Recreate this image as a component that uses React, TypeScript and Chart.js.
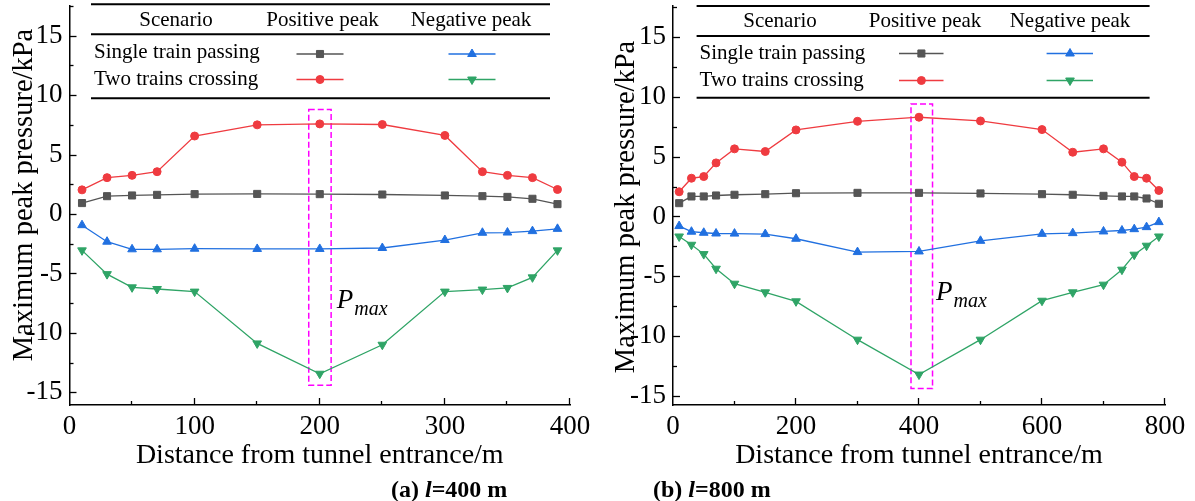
import React, { useEffect, useRef } from 'react';
import { Chart, registerables } from 'chart.js';
import { drawPoint } from 'chart.js/helpers';

Chart.register(...registerables);

const FONT = '"Liberation Serif", "Times New Roman", Times, serif';

// ---------- data: panel (a) l = 400 m ----------
const distanceA = [10, 30, 50, 70, 100, 150, 200, 250, 300, 330, 350, 370, 390];
const singlePosA = [0.92, 1.5, 1.56, 1.61, 1.67, 1.69, 1.67, 1.64, 1.56, 1.5, 1.44, 1.28, 0.83];
const singleNegA = [-0.94, -2.33, -2.97, -2.97, -2.92, -2.94, -2.94, -2.86, -2.19, -1.58, -1.56, -1.44, -1.25];
const twoPosA = [2.03, 3.06, 3.25, 3.56, 6.56, 7.5, 7.58, 7.53, 6.61, 3.56, 3.25, 3.06, 2.06];
const twoNegA = [-3.06, -5.06, -6.17, -6.31, -6.53, -10.89, -13.44, -11.0, -6.53, -6.36, -6.22, -5.33, -3.06];

// ---------- data: panel (b) l = 800 m ----------
const distanceB = [10, 30, 50, 70, 100, 150, 200, 300, 400, 500, 600, 650, 700, 730, 750, 770, 790];
const singlePosB = [1.11, 1.67, 1.67, 1.75, 1.81, 1.86, 1.94, 1.97, 1.97, 1.92, 1.86, 1.81, 1.72, 1.67, 1.67, 1.5, 1.06];
const singleNegB = [-0.8, -1.27, -1.36, -1.42, -1.43, -1.47, -1.86, -2.97, -2.92, -2.03, -1.45, -1.39, -1.25, -1.17, -1.06, -0.89, -0.47];
const twoPosB = [2.06, 3.19, 3.33, 4.47, 5.64, 5.42, 7.22, 7.94, 8.28, 7.97, 7.25, 5.36, 5.64, 4.53, 3.33, 3.19, 2.17];
const twoNegB = [-1.67, -2.36, -3.14, -4.36, -5.61, -6.33, -7.08, -10.28, -13.19, -10.28, -7.03, -6.33, -5.69, -4.44, -3.19, -2.44, -1.67];

// axis ranges / ticks
const xRangeA = [0, 400];
const xRangeB = [0, 800];
const xTicksA = [0, 100, 200, 300, 400];
const xTicksB = [0, 200, 400, 600, 800];
const yRangeA = [-16.07, 17.5];
const yRangeB = [-15.73, 17.56];
const yTicks = [-15, -10, -5, 0, 5, 10, 15];

// P_max highlight boxes (data units: x1, x2, y1, y2) and label anchors
const pmaxBoxA = [191.2, 209.1, -14.4, 8.8];
const pmaxBoxB = [387, 422, -14.36, 9.39];
const pmaxLabelA = [213.6, -7.94];
const pmaxLabelB = [427.6, -6.94];

// text
const seriesNames = ['Single train passing', 'Two trains crossing'];
const legendHeaders = ['Scenario', 'Positive peak', 'Negative peak'];
const xTitle = 'Distance from tunnel entrance/m';
const yTitle = 'Maximum peak pressure/kPa';

const COLORS = {
  gray: '#555555',
  red: '#ef3b40',
  blue: '#2170e0',
  green: '#2fa466',
  magenta: '#ff00ff',
};

type LegendLayout = {
  x1: number; x2: number; rules: number[]; headerY: number; headerX: number[];
  textX: number; textY: number[]; markY: number[]; pos: number[]; neg: number[];
};

type PanelCfg = {
  width: number;
  chartArea: { left: number; right: number; top: number; bottom: number };
  xRange: number[]; xTicks: number[]; yRange: number[];
  distance: number[]; singlePos: number[]; singleNeg: number[]; twoPos: number[]; twoNeg: number[];
  box: number[]; pLabel: number[];
  yTitlePos: number[];
  caption: { x: number; y: number; parts: { t: string; f: string }[] };
  legend: LegendLayout;
};

const panelA: PanelCfg = {
  width: 597,
  chartArea: { left: 69.5, right: 570, top: 2.7, bottom: 405 },
  xRange: xRangeA, xTicks: xTicksA, yRange: yRangeA,
  distance: distanceA, singlePos: singlePosA, singleNeg: singleNegA, twoPos: twoPosA, twoNeg: twoNegA,
  box: pmaxBoxA, pLabel: pmaxLabelA,
  yTitlePos: [25, 195],
  caption: { x: 391, y: 497, parts: [{ t: '(a) ', f: 'bold' }, { t: 'l', f: 'italic bold' }, { t: '=400 m', f: 'bold' }] },
  legend: {
    x1: 91, x2: 550, rules: [4.3, 34.3, 98.3], headerY: 20, headerX: [176, 322.5, 471],
    textX: 94, textY: [52, 79.5], markY: [54, 79.5], pos: [296.5, 343.5, 320], neg: [448.5, 495.5, 472],
  },
};

const panelB: PanelCfg = {
  width: 598,
  chartArea: { left: 76, right: 568, top: 6, bottom: 405 },
  xRange: xRangeB, xTicks: xTicksB, yRange: yRangeB,
  distance: distanceB, singlePos: singlePosB, singleNeg: singleNegB, twoPos: twoPosB, twoNeg: twoNegB,
  box: pmaxBoxB, pLabel: pmaxLabelB,
  yTitlePos: [30, 207],
  caption: { x: 56, y: 497, parts: [{ t: '(b) ', f: 'bold' }, { t: 'l', f: 'italic bold' }, { t: '=800 m', f: 'bold' }] },
  legend: {
    x1: 99.6, x2: 552.6, rules: [6, 36, 97.7], headerY: 21.2, headerX: [183, 328, 473],
    textX: 102.6, textY: [53, 80.5], markY: [53.5, 80.5], pos: [302, 346.5, 324.4], neg: [449.6, 496, 473],
  },
};

const HEIGHT = 501;

function makeChart(canvas: HTMLCanvasElement, cfg: PanelCfg) {
  const toPts = (ys: number[]) => cfg.distance.map((x, i) => ({ x, y: ys[i] }));
  const ds = (label: string, ys: number[], color: string, style: string, radius: number, rotation = 0) => ({
    label,
    data: toPts(ys),
    borderColor: color,
    backgroundColor: color,
    borderWidth: 1.3,
    pointStyle: style,
    pointRadius: radius,
    pointRotation: rotation,
    pointBorderWidth: 1,
    pointBorderColor: color,
    pointBackgroundColor: color,
    tension: 0,
    fill: false,
  });

  const datasets = [
    ds(seriesNames[0] + ' positive', cfg.singlePos, COLORS.gray, 'rect', 5),
    ds(seriesNames[1] + ' positive', cfg.twoPos, COLORS.red, 'circle', 4),
    ds(seriesNames[0] + ' negative', cfg.singleNeg, COLORS.blue, 'triangle', 5),
    ds(seriesNames[1] + ' negative', cfg.twoNeg, COLORS.green, 'triangle', 5, 180),
  ];
  // legend cell of each dataset: [row, column]
  const legendCells = [[0, 'pos'], [1, 'pos'], [0, 'neg'], [1, 'neg']] as const;

  const xStep = cfg.xTicks[1] - cfg.xTicks[0];
  const yStep = yTicks[1] - yTicks[0];

  const decor = {
    id: 'decor',
    beforeDatasetsDraw(chart: any) {
      const { ctx, scales } = chart;
      const xs = scales.x, ys = scales.y;
      const [bx1, bx2, by1, by2] = cfg.box;
      const l = xs.getPixelForValue(bx1), r = xs.getPixelForValue(bx2);
      const t = ys.getPixelForValue(by2), b = ys.getPixelForValue(by1);
      ctx.save();
      ctx.strokeStyle = COLORS.magenta;
      ctx.lineWidth = 1.5;
      ctx.setLineDash([6, 3]);
      ctx.strokeRect(l, t, r - l, b - t);
      ctx.restore();
    },
    afterDraw(chart: any) {
      const { ctx, scales, chartArea } = chart;
      const xs = scales.x, ys = scales.y;
      ctx.save();
      // inward ticks (major on labels, minor halfway)
      ctx.strokeStyle = '#000';
      ctx.lineWidth = 1.3;
      const yMarks: [number, boolean][] = [];
      yTicks.forEach((v) => { yMarks.push([v, true]); yMarks.push([v + yStep / 2, false]); });
      yMarks.push([yTicks[0] - yStep / 2, false]);
      for (const [v, major] of yMarks) {
        if (v < ys.min || v > ys.max) continue;
        const py = Math.round(ys.getPixelForValue(v)) + 0.5;
        ctx.beginPath();
        ctx.moveTo(chartArea.left, py);
        ctx.lineTo(chartArea.left + (major ? 7 : 4), py);
        ctx.stroke();
      }
      const xMarks: [number, boolean][] = [];
      cfg.xTicks.forEach((v, i) => { if (i > 0) xMarks.push([v, true]); xMarks.push([v + xStep / 2, false]); });
      for (const [v, major] of xMarks) {
        if (v > xs.max) continue;
        const px = Math.round(xs.getPixelForValue(v)) - 0.5;
        ctx.beginPath();
        ctx.moveTo(px, chartArea.bottom);
        ctx.lineTo(px, chartArea.bottom - (major ? 7 : 4));
        ctx.stroke();
      }

      // y title
      ctx.fillStyle = '#000';
      ctx.font = `28.5px ${FONT}`;
      ctx.textAlign = 'center';
      ctx.textBaseline = 'middle';
      ctx.save();
      ctx.translate(cfg.yTitlePos[0], cfg.yTitlePos[1]);
      ctx.rotate(-Math.PI / 2);
      ctx.fillText(yTitle, 0, 0);
      ctx.restore();

      // P_max label
      const px = xs.getPixelForValue(cfg.pLabel[0]);
      const py = ys.getPixelForValue(cfg.pLabel[1]);
      ctx.textAlign = 'left';
      ctx.textBaseline = 'alphabetic';
      ctx.font = `italic 27px ${FONT}`;
      ctx.fillText('P', px, py);
      const pw = ctx.measureText('P').width;
      ctx.font = `italic 20px ${FONT}`;
      ctx.fillText('max', px + pw + 1, py + 7);

      // legend table
      const L = cfg.legend;
      ctx.strokeStyle = '#000';
      ctx.lineWidth = 2;
      for (const y of L.rules) {
        ctx.beginPath();
        ctx.moveTo(L.x1, y);
        ctx.lineTo(L.x2, y);
        ctx.stroke();
      }
      ctx.font = `21px ${FONT}`;
      ctx.textBaseline = 'middle';
      ctx.textAlign = 'center';
      legendHeaders.forEach((h, i) => ctx.fillText(h, L.headerX[i], L.headerY));
      ctx.textAlign = 'left';
      seriesNames.forEach((s, i) => ctx.fillText(s, L.textX, L.textY[i]));
      chart.data.datasets.forEach((d: any, i: number) => {
        const [row, col] = legendCells[i];
        const seg = col === 'pos' ? L.pos : L.neg;
        const y = L.markY[row];
        ctx.strokeStyle = d.borderColor;
        ctx.fillStyle = d.backgroundColor;
        ctx.lineWidth = 1.3;
        ctx.beginPath();
        ctx.moveTo(seg[0], y);
        ctx.lineTo(seg[1], y);
        ctx.stroke();
        ctx.lineWidth = 1;
        drawPoint(ctx, { pointStyle: d.pointStyle, rotation: d.pointRotation, radius: d.pointRadius, borderWidth: 1 }, seg[2], y);
      });

      // caption
      ctx.fillStyle = '#000';
      ctx.textBaseline = 'alphabetic';
      ctx.textAlign = 'left';
      let cx = cfg.caption.x;
      for (const part of cfg.caption.parts) {
        ctx.font = `${part.f} 24px ${FONT}`;
        ctx.fillText(part.t, cx, cfg.caption.y);
        cx += ctx.measureText(part.t).width;
      }
      ctx.restore();
    },
  };

  const ca = cfg.chartArea;
  return new Chart(canvas, {
    type: 'line',
    data: { datasets },
    plugins: [decor],
    options: {
      responsive: false,
      animation: false,
      devicePixelRatio: 1,
      layout: { padding: { left: 0, top: ca.top, right: cfg.width - ca.right, bottom: 0 } },
      plugins: { legend: { display: false }, tooltip: { enabled: false }, title: { display: false } },
      scales: {
        x: {
          type: 'linear',
          min: cfg.xRange[0],
          max: cfg.xRange[1],
          bounds: 'data',
          afterBuildTicks: (s: any) => { s.ticks = cfg.xTicks.map((value) => ({ value })); },
          ticks: {
            autoSkip: false,
            maxRotation: 0,
            padding: 6,
            color: '#000',
            font: { family: FONT, size: 27 },
          },
          grid: { display: true, drawOnChartArea: false, drawTicks: false, color: 'rgba(0,0,0,0)' },
          border: { display: true, color: '#000', width: 1.5 },
          title: {
            display: true,
            text: xTitle,
            color: '#000',
            font: { family: FONT, size: 28 },
            padding: { top: 0, bottom: 28.7 },
          },
          afterFit: (s: any) => {
            s.height = HEIGHT - ca.bottom;
            s.paddingLeft = 0; s.paddingRight = 0; s.paddingTop = 0; s.paddingBottom = 0;
          },
        },
        y: {
          type: 'linear',
          min: cfg.yRange[0],
          max: cfg.yRange[1],
          bounds: 'data',
          afterBuildTicks: (s: any) => { s.ticks = yTicks.map((value) => ({ value })); },
          ticks: {
            autoSkip: false,
            padding: 7,
            color: '#000',
            font: { family: FONT, size: 27 },
          },
          grid: { display: true, drawOnChartArea: false, drawTicks: false, color: 'rgba(0,0,0,0)' },
          border: { display: true, color: '#000', width: 1.5 },
          afterFit: (s: any) => {
            s.width = ca.left;
            s.paddingLeft = 0; s.paddingRight = 0; s.paddingTop = 0; s.paddingBottom = 0;
          },
        },
      },
    } as any,
  });
}

function Panel({ cfg }: { cfg: PanelCfg }) {
  const ref = useRef<HTMLCanvasElement | null>(null);
  useEffect(() => {
    if (!ref.current) return;
    const chart = makeChart(ref.current, cfg);
    return () => chart.destroy();
  }, [cfg]);
  return <canvas ref={ref} width={cfg.width} height={HEIGHT} style={{ display: 'block', width: cfg.width, height: HEIGHT }} />;
}

export default function App() {
  return (
    <div style={{ position: 'absolute', left: 0, top: 0, width: 1195, height: HEIGHT, display: 'flex', background: '#fff' }}>
      <Panel cfg={panelA} />
      <Panel cfg={panelB} />
    </div>
  );
}
